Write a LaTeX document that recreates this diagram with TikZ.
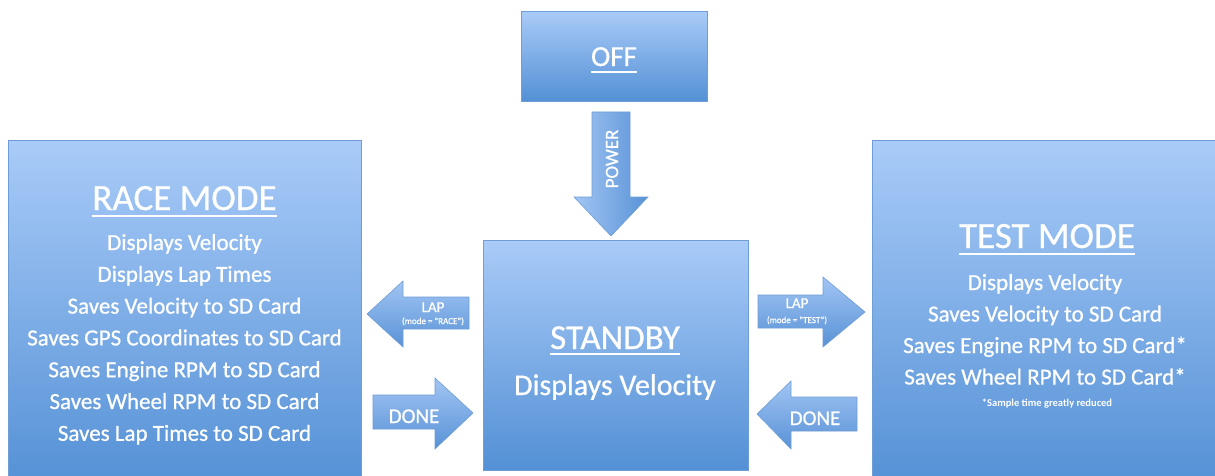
\documentclass[tikz,border=0pt]{standalone}
\usepackage{fontspec}
\setmainfont{Carlito}[UprightFeatures={FakeBold=0.7}]
\definecolor{boxtop}{HTML}{A9CBF8}
\definecolor{boxbot}{HTML}{5390D5}
\definecolor{boxedge}{HTML}{6F9DD5}
\definecolor{arrtop}{HTML}{A2C5F4}
\definecolor{arrbot}{HTML}{5892D6}
\tikzset{
  statebox/.style={draw=boxedge, line width=0.8pt, top color=boxtop, bottom color=boxbot,
    inner sep=0pt, anchor=north west},
  blockarrow/.style={draw=boxedge, line width=0.6pt, top color=arrtop, bottom color=arrbot},
  downarrow/.style={draw=boxedge, line width=0.6pt, left color=arrtop, right color=arrbot},
  label/.style={text=white, inner sep=0pt, anchor=base},
  title/.style={label, font=\fontsize{37}{40}\selectfont},
  item/.style={label, font=\fontsize{23}{26}\selectfont},
  ulineline/.style={white, line width=1.6pt},
}
\begin{document}
\begin{tikzpicture}[x=1pt, y=-1pt]
\useasboundingbox (0,0) rectangle (1215,476);
\clip (0,0) rectangle (1215,476);

% state boxes
\node[statebox, minimum width=186pt, minimum height=90pt] (off) at (521,11) {};
\node[statebox, minimum width=353pt, minimum height=350pt] (race) at (8,140) {};
\node[statebox, minimum width=265pt, minimum height=230pt] (standby) at (483,240) {};
\node[statebox, minimum width=360pt, minimum height=350pt] (test) at (872,140) {};

% OFF
\node[label, font=\fontsize{29}{32}\selectfont] (offt) at (614,66) {OFF};
\draw[ulineline] ([yshift=-6pt]offt.base west) -- ([yshift=-6pt]offt.base east);

% POWER arrow (pointing down)
\path[downarrow]
  (592,112) -- (630,112) -- (630,197) -- (648,197) -- (611,236) -- (574,197) -- (592,197) -- cycle;
\node[label, anchor=center, rotate=90, font=\fontsize{19}{20}\selectfont] (power) at (612,159) {POWER};

% RACE MODE
\node[title] (racet) at (184.5,210) {RACE MODE};
\draw[ulineline] ([yshift=-6pt]racet.base west) -- ([yshift=-6pt]racet.base east);
\foreach \t [count=\i] in {Displays Velocity, Displays Lap Times, Saves Velocity to SD Card,
    Saves GPS Coordinates to SD Card, Saves Engine RPM to SD Card,
    Saves Wheel RPM to SD Card, Saves Lap Times to SD Card}
  \node[item] (race-\i) at (184.5,{250+31.8*(\i-1)}) {\t};

% STANDBY
\node[label, font=\fontsize{35}{38}\selectfont] (standbyt) at (615,349) {STANDBY};
\draw[ulineline] ([yshift=-5pt]standbyt.base west) -- ([yshift=-5pt]standbyt.base east);
\node[label, font=\fontsize{30}{33}\selectfont] (standby-1) at (615,395) {Displays Velocity};

% TEST MODE
\node[title] (testt) at (1047,248) {TEST MODE};
\draw[ulineline] ([yshift=-6pt]testt.base west) -- ([yshift=-6pt]testt.base east);
\foreach \t [count=\i] in {Displays Velocity, Saves Velocity to SD Card,
    Saves Engine RPM to SD Card*, Saves Wheel RPM to SD Card*}
  \node[item] (test-\i) at (1045,{290+31.5*(\i-1)}) {\t};
\node[label, font=\bfseries\fontsize{10.5}{12}\selectfont] (note) at (1047,406) {*Sample time greatly reduced};

% LAP arrow towards RACE MODE
\path[blockarrow] (367,314) -- (403,281) -- (403,297) -- (469,297) -- (469,329)
  -- (403,329) -- (403,347) -- cycle;
\node[label, font=\fontsize{15}{16}\selectfont] (lapr) at (433,312) {LAP};
\node[label, font=\fontsize{9}{10}\selectfont] (lapr-m) at (433,324) {(mode = "RACE")};

% LAP arrow towards TEST MODE
\path[blockarrow] (758,295) -- (823,295) -- (823,277) -- (865,312) -- (823,347)
  -- (823,328) -- (758,328) -- cycle;
\node[label, font=\fontsize{15}{16}\selectfont] (lapt) at (797,308) {LAP};
\node[label, font=\fontsize{9}{10}\selectfont] (lapt-m) at (797,323) {(mode = "TEST")};

% DONE arrow from RACE MODE
\path[blockarrow] (373,395) -- (435,395) -- (435,378) -- (473,413) -- (435,449)
  -- (435,429) -- (373,429) -- cycle;
\node[label, font=\fontsize{21}{22}\selectfont] (doner) at (414,423) {DONE};

% DONE arrow from TEST MODE
\path[blockarrow] (757,414) -- (791,381) -- (791,397) -- (857,397) -- (857,431)
  -- (791,431) -- (791,449) -- cycle;
\node[label, font=\fontsize{21}{22}\selectfont] (donet) at (815,425) {DONE};
\end{tikzpicture}
\end{document}
